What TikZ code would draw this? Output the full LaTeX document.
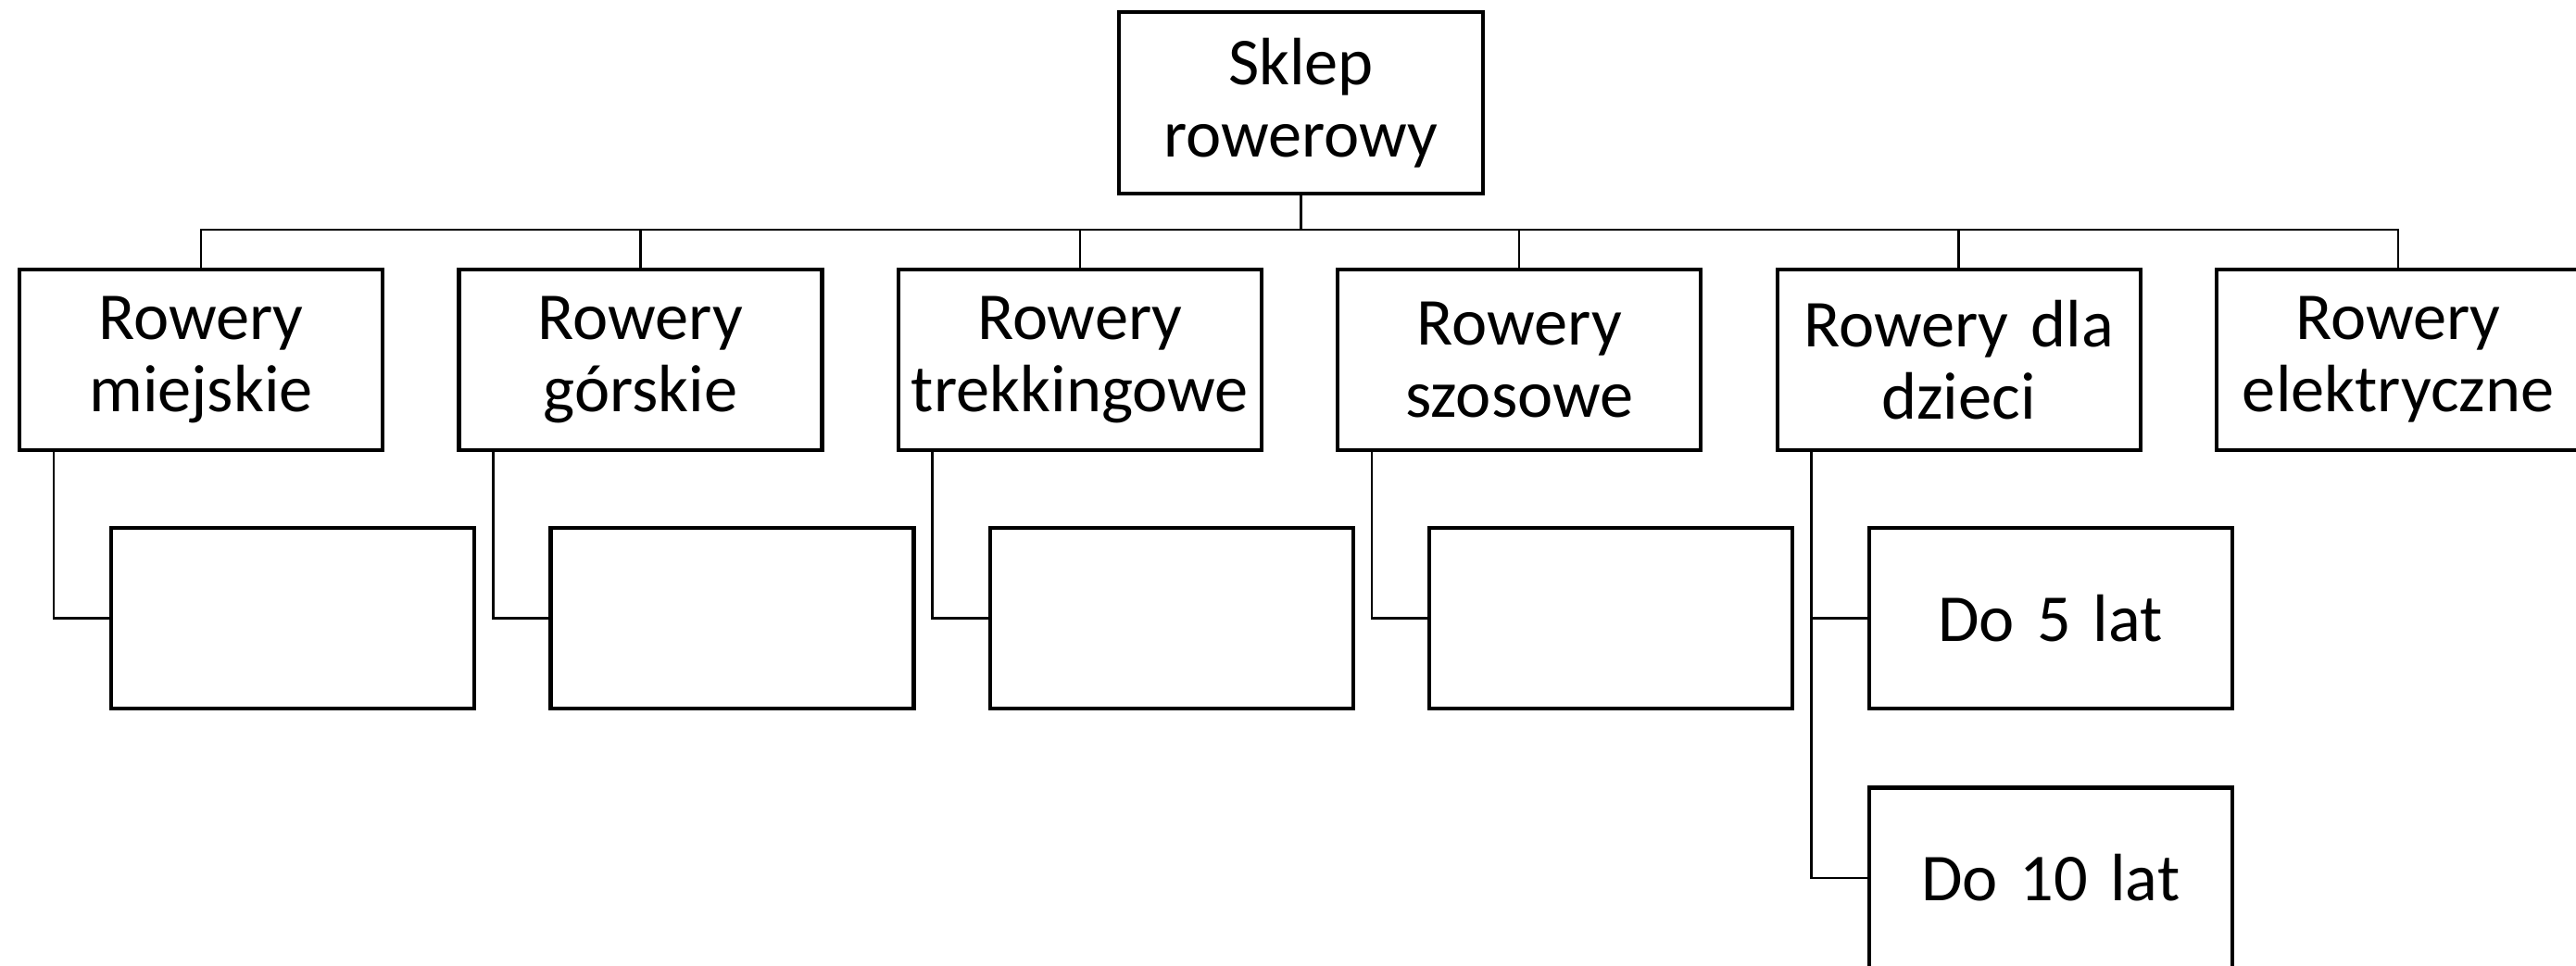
\documentclass[tikz,border=0pt]{standalone}
\usepackage{fontspec}
\setmainfont{Carlito}[WordSpace=0.85]
\begin{document}
\begin{tikzpicture}

\tikzset{
  Box/.style={draw, line width=1.2pt, minimum width=3.92cm, minimum height=1.95cm,
    inner sep=0pt, text width=3.88cm, align=center, font=\fontsize{20.6}{22.2}\selectfont},
  Link/.style={line width=0.7pt}
}

\useasboundingbox (0,0) rectangle (27.81,10.42);

\node[Box, minimum width=3.93cm, minimum height=1.96cm] (Sklep) at (14.045,9.31) {Sklep\\rowerowy};

\node[Box] (Rw_1) at (2.17,6.535) {Rowery\\miejskie};
\node[Box] (Rw_2) at (6.914,6.535) {Rowery\\górskie};
\node[Box] (Rw_3) at (11.658,6.535) {Rowery\\trekkingowe};
\node[Box] (Rw_4) at (16.402,6.535) {Rowery\\szosowe};
\node[Box] (Rw_5) at (21.146,6.535) {Rowery dla\\dzieci};
\node[Box] (Rw_6) at (25.89,6.535) {Rowery\\elektryczne};

\node[Box] (Pod_1) at (3.16,3.745) {};
\node[Box] (Pod_2) at (7.904,3.745) {};
\node[Box] (Pod_3) at (12.648,3.745) {};
\node[Box] (Pod_4) at (17.392,3.745) {};
\node[Box] (Pod_5) at (22.136,3.745) {Do 5 lat};
\node[Box] (Pod_6) at (22.136,0.94) {Do 10 lat};

\coordinate (Bus) at (14.045,7.94);

\draw[Link] (Sklep.south) -- (Sklep.south |- Bus);
\draw[Link] (Rw_1.north) |- (Bus) -| (Rw_6.north);
\foreach \i in {2,...,5}
  \draw[Link] (Rw_\i.north) -- (Rw_\i.north |- Bus);

\foreach \i in {1,...,5}
  \draw[Link] ([xshift=3.9mm]Rw_\i.south west) |- (Pod_\i.west);
\draw[Link] ([xshift=3.9mm]Rw_5.south west) |- (Pod_6.west);

\end{tikzpicture}
\end{document}
